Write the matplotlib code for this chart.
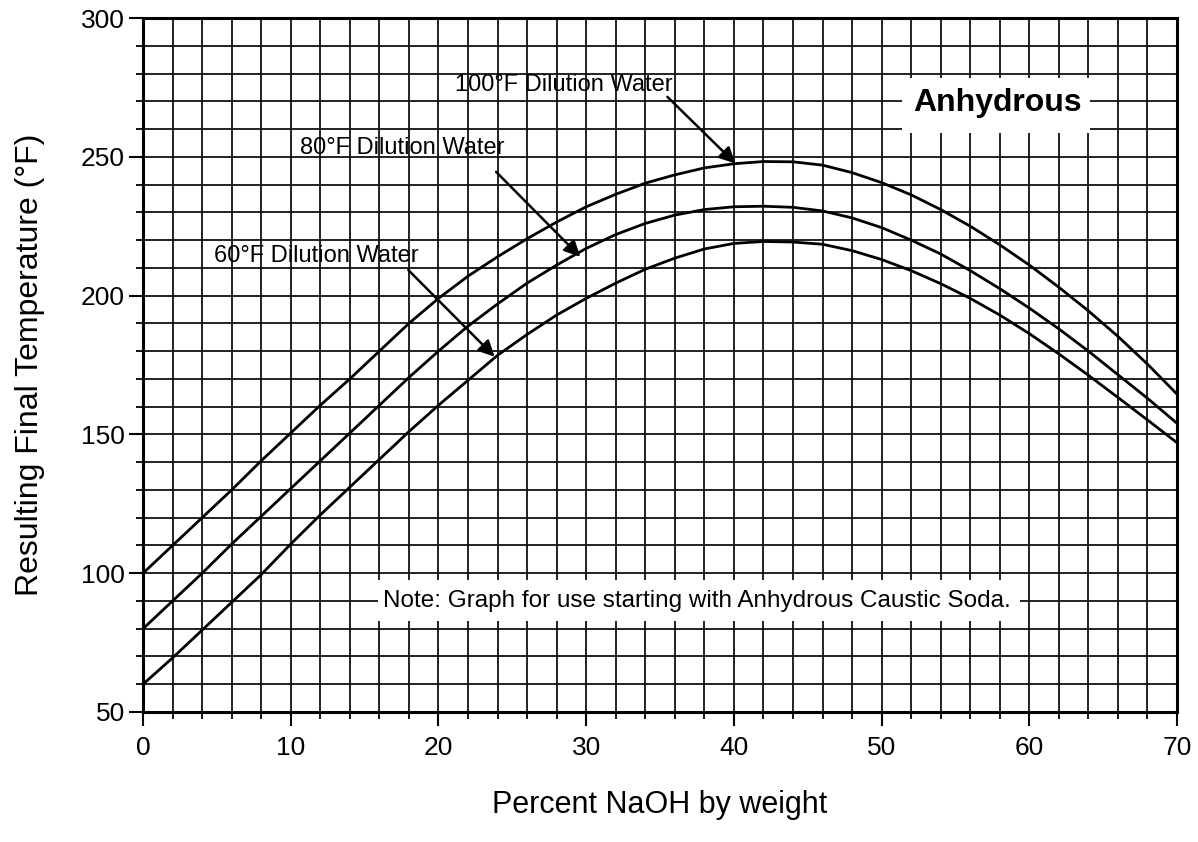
import matplotlib.pyplot as plt
from matplotlib.patches import Rectangle
from matplotlib.ticker import MultipleLocator

plt.rcParams['font.family'] = ['Liberation Sans', 'DejaVu Sans']

# Porcentaje de NaOH (eje x) y temperatura final para cada agua de dilucion
naoh_pct = list(range(0, 72, 2))
temp_100 = [100, 110, 120, 130, 140.5, 150.5, 160.5, 170, 180, 190, 199, 207,
            214, 220.5, 226.5, 232, 236.5, 240.5, 243.5, 246, 247.5, 248.3,
            248.2, 247, 244.3, 240.7, 236.3, 231, 225, 218.3, 211, 203,
            194.5, 185.3, 175.3, 164.5]
temp_80 = [80, 90, 100, 110.5, 120.5, 130.5, 140.5, 150.5, 160.5, 170.5, 180,
           189, 197, 204.5, 211, 217, 222, 226, 229, 231, 232,
           232.2, 231.8, 230.5, 228, 224.5, 220, 215, 209, 202.5, 195.5, 188,
           180, 171.5, 163, 154]
temp_60 = [60, 69.5, 79.5, 89.5, 99.5, 110.5, 121, 131, 141, 151, 160.5,
           169.5, 178.5, 186, 193, 199, 204.5, 209.5, 213.5, 216.8, 218.8,
           219.5, 219.3, 218.5, 216.2, 213, 209, 204.3, 199, 193, 186.3,
           179, 171.3, 163.3, 155.2, 147]

fig = plt.figure(figsize=(11.98, 8.42), dpi=100)
ax = fig.add_axes([0.1194, 0.1544, 0.8631, 0.8242])

for serie in (temp_100, temp_80, temp_60):
    ax.plot(naoh_pct, serie, color='black', lw=2.0, zorder=3)

ax.set_xlim(0, 70)
ax.set_ylim(50, 300)
ax.xaxis.set_major_locator(MultipleLocator(10))
ax.xaxis.set_minor_locator(MultipleLocator(2))
ax.yaxis.set_major_locator(MultipleLocator(50))
ax.yaxis.set_minor_locator(MultipleLocator(10))
ax.set_axisbelow(True)
ax.grid(which='both', color='#111111', lw=1.3)
ax.tick_params(which='major', direction='out', length=10, width=1.5,
               labelsize=19, pad=7)
ax.tick_params(which='minor', direction='out', length=5, width=1.3)
ax.tick_params(axis='y', which='major', pad=3)
for s in ax.spines.values():
    s.set_linewidth(2.2)

ax.set_xlabel('Percent NaOH by weight', fontsize=22, labelpad=22)
ax.set_ylabel('Resulting Final Temperature (°F)', fontsize=23, labelpad=26)

# Etiquetas con flechas
flecha = dict(arrowstyle='-|>', color='black', lw=1.8, mutation_scale=24,
              shrinkA=0, shrinkB=0)
ax.text(21.1, 275.9, '100°F Dilution Water', fontsize=17, va='center')
ax.annotate('', xy=(40.1, 247.6), xytext=(35.5, 271.6), arrowprops=flecha)
ax.text(10.6, 253.3, '80°F Dilution Water', fontsize=17, va='center')
ax.annotate('', xy=(29.6, 214), xytext=(23.9, 244.6), arrowprops=flecha)
ax.text(4.8, 214.3, '60°F Dilution Water', fontsize=17, va='center')
ax.annotate('', xy=(23.8, 178), xytext=(17.96, 209.2), arrowprops=flecha)

# Cajas blancas
ax.add_patch(Rectangle((51.4, 258.6), 12.7, 19.8, facecolor='white',
                       edgecolor='none', zorder=2))
ax.text(52.15, 269.3, 'Anhydrous', fontsize=23, fontweight='bold',
        va='center', zorder=4)
ax.add_patch(Rectangle((15.9, 82.8), 43.5, 14.8, facecolor='white',
                       edgecolor='none', zorder=2))
ax.text(16.25, 90, 'Note: Graph for use starting with Anhydrous Caustic Soda.',
        fontsize=17.5, va='center', zorder=4)

fig.savefig('out.png', dpi=100)
